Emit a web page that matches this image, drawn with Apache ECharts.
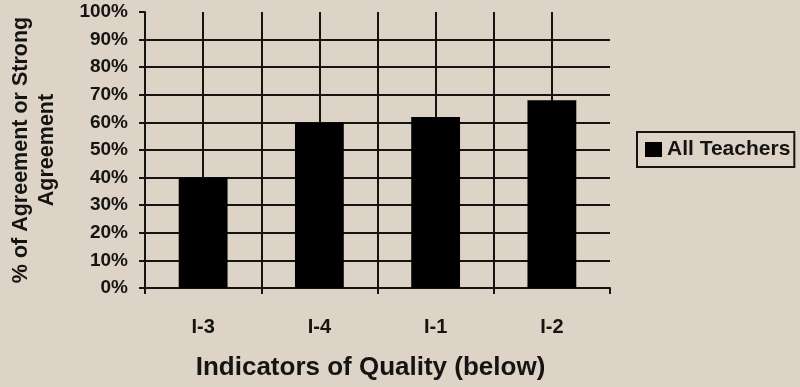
<!DOCTYPE html>
<html><head><meta charset="utf-8">
<script src="https://cdn.jsdelivr.net/npm/echarts@6/dist/echarts.min.js"></script>
<style>html,body{margin:0;padding:0;background:#ddd3c6;}#c{width:800px;height:387px;}</style>
</head><body><div id="c"></div>
<script>
const categories = ['I-3', 'I-4', 'I-1', 'I-2'];
const seriesName = 'All Teachers';
const values = [0.40, 0.60, 0.62, 0.68];
const yTicks = [0, 0.1, 0.2, 0.3, 0.4, 0.5, 0.6, 0.7, 0.8, 0.9, 1.0];
const yTitle = '% of Agreement or Strong\nAgreement';
const xTitle = 'Indicators of Quality (below)';

const ink = '#161412';
const font = '"Liberation Sans", Arial, sans-serif';
// helper grid-line positions: half-category steps and 10% steps
const halfSteps = [];
for (let i = 0; i <= categories.length * 2; i++) halfSteps.push(String(i));
const tenthSteps = yTicks.map(String);

const chart = echarts.init(document.getElementById('c'), null, {renderer: 'canvas'});
chart.setOption({
  backgroundColor: '#ddd3c6',
  animation: false,
  textStyle: {fontFamily: font},
  grid: {left: 145, right: 190, top: 12, bottom: 99, containLabel: false, outerBoundsMode: 'none'},
  legend: {
    data: [seriesName],
    left: 637, top: 132,
    padding: [7, 4, 7, 8],
    borderColor: ink, borderWidth: 2,
    itemWidth: 17, itemHeight: 15, icon: 'rect',
    textStyle: {fontSize: 21, fontWeight: 'bold', color: ink, fontFamily: font}
  },
  xAxis: [{
    type: 'category', data: categories, boundaryGap: true,
    axisLine: {lineStyle: {color: ink, width: 2}},
    axisTick: {show: true, inside: false, length: 6, lineStyle: {color: ink, width: 2}},
    axisLabel: {fontSize: 20, fontWeight: 'bold', color: ink, margin: 29},
    splitLine: {show: false},
    name: xTitle, nameLocation: 'middle', nameGap: 67,
    nameTextStyle: {fontSize: 26, fontWeight: 'bold', color: ink, padding: [0, 14, 0, 0]}
  }, {
    type: 'category', data: halfSteps, boundaryGap: false, position: 'top',
    axisLine: {show: false}, axisTick: {show: false}, axisLabel: {show: false},
    splitLine: {show: true, interval: function (i) { return i < halfSteps.length - 1; },
      lineStyle: {color: ink, width: 2}}
  }],
  yAxis: [{
    type: 'value', min: 0, max: 1, interval: 0.1,
    axisLine: {show: true, lineStyle: {color: ink, width: 2}},
    axisTick: {show: true, inside: false, length: 6, lineStyle: {color: ink, width: 2}},
    axisLabel: {fontSize: 19, fontWeight: 'bold', color: ink, margin: 17,
      formatter: v => Math.round(v * 100) + '%'},
    splitLine: {show: false},
    name: yTitle, nameLocation: 'middle', nameGap: 85, nameRotate: 90,
    nameTextStyle: {fontSize: 21.5, fontWeight: 'bold', color: ink, lineHeight: 26, align: 'center'}
  }, {
    type: 'category', data: tenthSteps, boundaryGap: false, position: 'right',
    axisLine: {show: false}, axisTick: {show: false}, axisLabel: {show: false},
    splitLine: {show: true, interval: function (i) { return i < tenthSteps.length - 1; },
      lineStyle: {color: ink, width: 2}}
  }],
  series: [{
    name: seriesName, type: 'bar', data: values,
    xAxisIndex: 0, yAxisIndex: 0,
    barWidth: '42%',
    itemStyle: {color: '#000000'}
  }]
});
</script></body></html>
